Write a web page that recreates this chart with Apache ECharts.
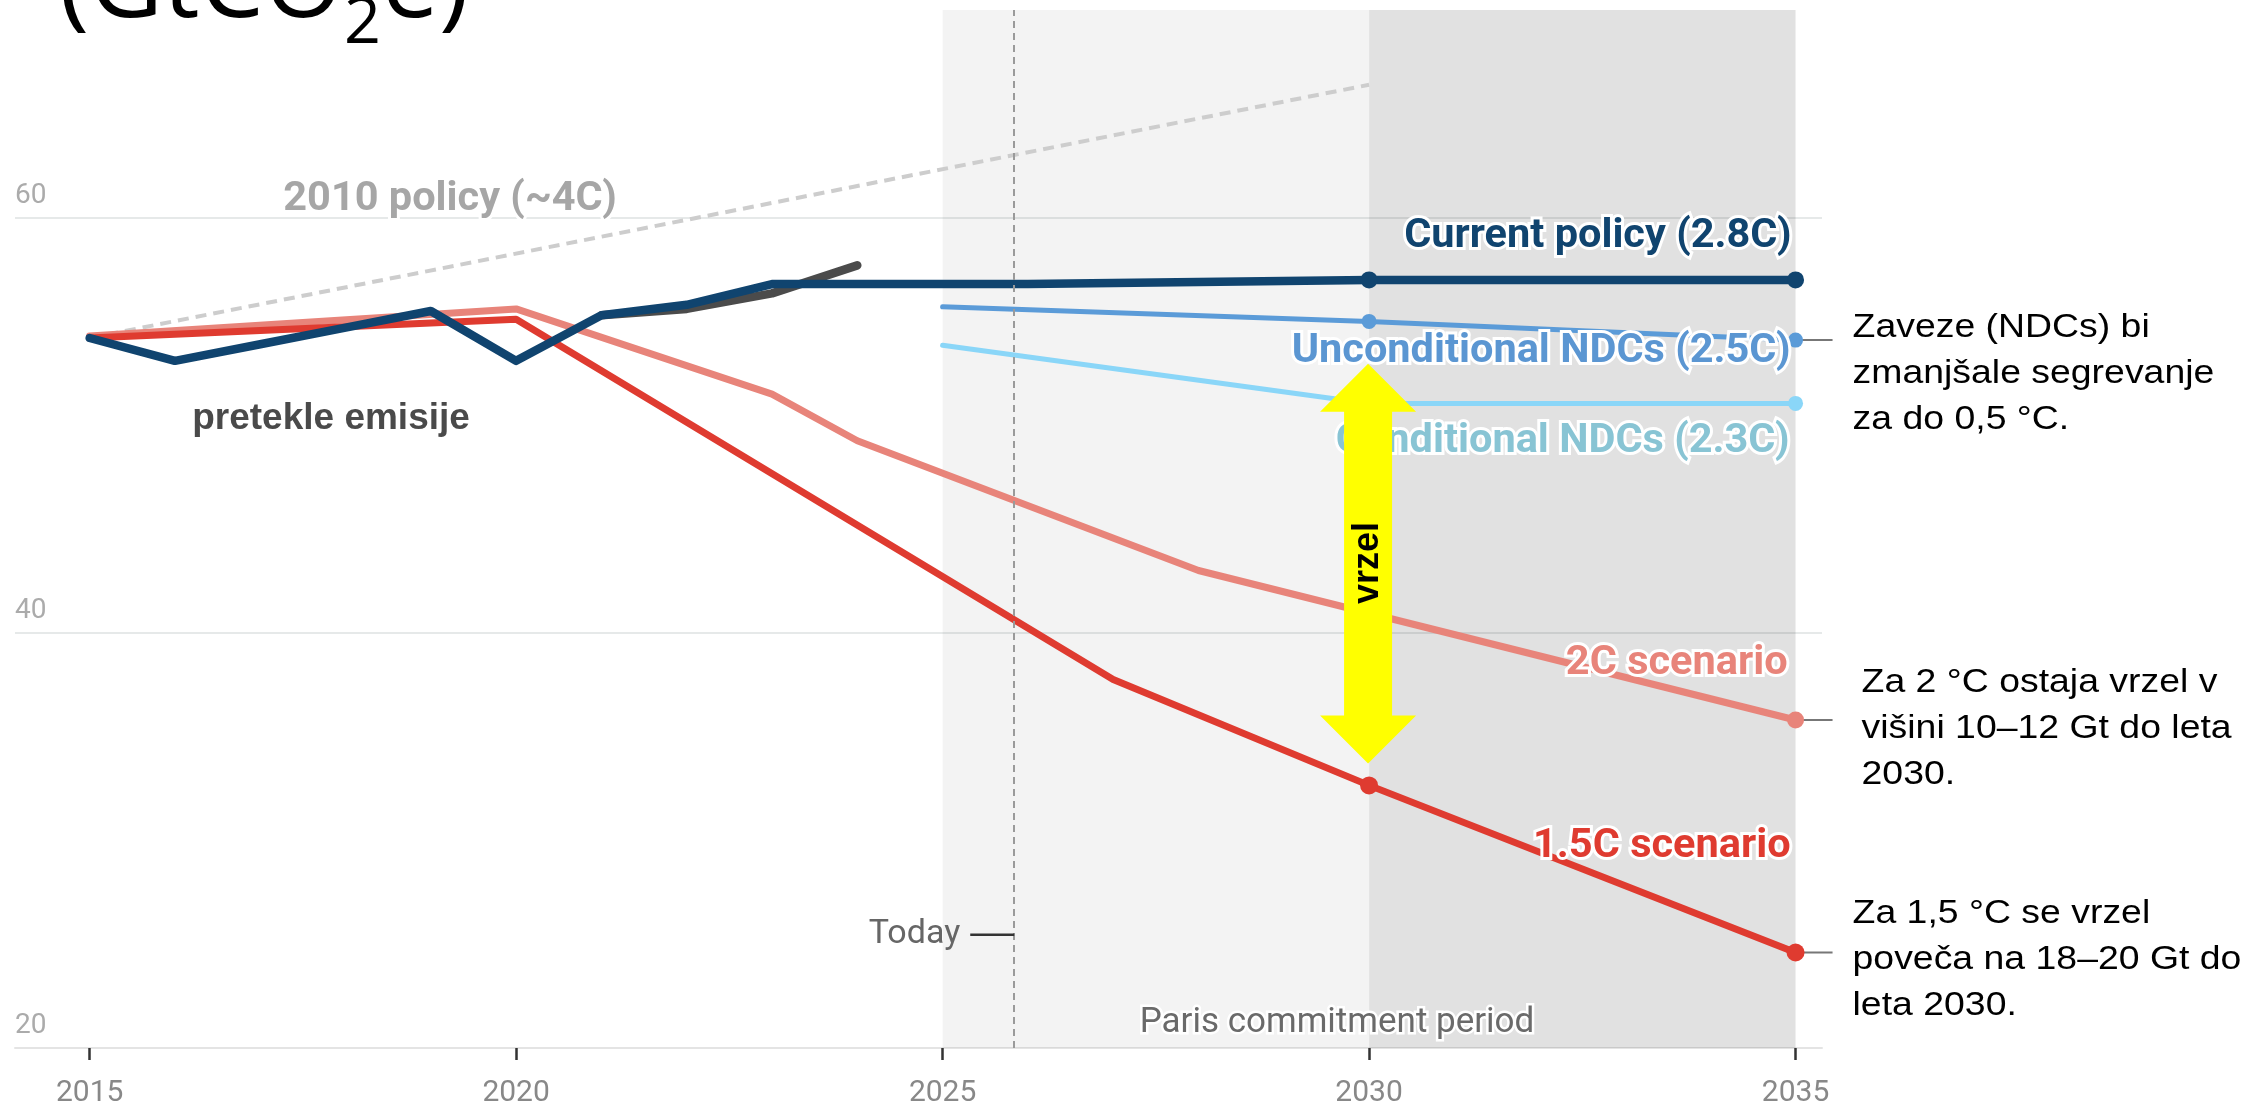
<!DOCTYPE html>
<html><head><meta charset="utf-8">
<script src="https://cdn.jsdelivr.net/npm/echarts@6/dist/echarts.min.js"></script>
<style>html,body{margin:0;padding:0;background:#fff;overflow:hidden}#c{width:2265px;height:1110px}</style>
</head><body><div id="c"></div>
<script>
// ---------- data ----------
const yearTicks = [2015, 2020, 2025, 2030, 2035];
const yTicks = [20, 40, 60];

const currentPolicyYears  = [2015, 2016, 2017, 2018, 2019, 2020, 2021, 2022, 2023, 2024, 2026, 2030, 2035];
const currentPolicyValues = [54.2, 53.1, 53.9, 54.7, 55.5, 53.1, 55.3, 55.8, 56.8, 56.8, 56.8, 57.0, 57.0];
const actualYears  = [2021, 2022, 2023, 2024];
const actualValues = [55.3, 55.6, 56.35, 57.7];
const policy2010Years  = [2015, 2030];
const policy2010Values = [54.2, 66.4];
const uncondYears  = [2025, 2030, 2035];
const uncondValues = [55.7, 55.0, 54.1];
const condYears  = [2025, 2030, 2035];
const condValues = [53.85, 51.05, 51.05];
const s2cYears  = [2015, 2020, 2023, 2024, 2028, 2035];
const s2cValues = [54.3, 55.6, 51.5, 49.25, 43.0, 35.8];
const s15Years  = [2015, 2020, 2027, 2030, 2035];
const s15Values = [54.2, 55.1, 37.75, 32.65, 24.6];

const todayYear = 2025.84;
const parisStart = 2025, parisEnd = 2030, parisLast = 2035;

(function () {
const chart = echarts.init(document.getElementById('c'), null, {renderer: 'canvas', width: 2265, height: 1110});
const toPairs = (xs, ys) => xs.map((x, i) => [x, ys[i]]);
function lineSeries(name, xs, ys, color, width, dotYears, dotSize, extra) {
  return Object.assign({
    type: 'line', name: name, data: toPairs(xs, ys),
    showSymbol: true, showAllSymbol: true, symbol: 'circle',
    symbolSize: v => dotYears.indexOf(v[0]) >= 0 ? dotSize : 0,
    itemStyle: {color: color},
    lineStyle: {color: color, width: width, cap: 'round', join: 'round'},
    emphasis: {disabled: true}, silent: true, clip: false, animation: false
  }, extra || {});
}
const ROBOTO = 'Roboto';
const ARIAL = '"Liberation Sans", Arial';

chart.setOption({
  animation: false,
  backgroundColor: '#ffffff',
  grid: {left: 15, right: 443, top: 10, bottom: 62, containLabel: false, outerBoundsMode: 'none'},
  xAxis: {
    type: 'value', min: 2014.125, max: 2035.31,
    axisLine: {show: true, lineStyle: {color: '#e4e4e4', width: 2}},
    axisTick: {show: true, customValues: yearTicks, length: 12, lineStyle: {color: '#333', width: 2.5}},
    axisLabel: {customValues: yearTicks, fontSize: 30, color: '#888888', margin: 30, fontFamily: ROBOTO,
      formatter: v => String(v)},
    splitLine: {show: false}
  },
  yAxis: {
    type: 'value', min: 20, max: 70, interval: 20,
    axisLine: {show: false}, axisTick: {show: false},
    axisLabel: {inside: true, margin: 0, fontSize: 28, color: '#ababab', fontFamily: ROBOTO,
      align: 'left', verticalAlign: 'bottom', padding: [0, 0, 8, 0],
      formatter: v => yTicks.indexOf(v) >= 0 ? String(v) : ''},
    splitLine: {show: true, lineStyle: {color: ['#e6e9e9', '#e6e9e9', '#e6e9e9', 'rgba(0,0,0,0)'], width: 2}}
  },
  series: [
    lineSeries('2010 policy (~4C)', policy2010Years, policy2010Values, '#cdcdcd', 4, [], 0, {
      lineStyle: {color: '#cdcdcd', width: 4, type: [11, 7], cap: 'butt'},
      markArea: {silent: true, label: {show: false}, data: [
        [{xAxis: parisStart, itemStyle: {color: 'rgba(0,0,0,0.047)'}}, {xAxis: parisEnd}],
        [{xAxis: parisEnd, itemStyle: {color: 'rgba(0,0,0,0.118)'}}, {xAxis: parisLast}]
      ]},
      markLine: {silent: true, symbol: 'none', label: {show: false},
        lineStyle: {color: '#9a9a9a', width: 2, type: [7, 5]},
        data: [{xAxis: todayYear}]}
    }),
    lineSeries('2C scenario', s2cYears, s2cValues, '#e8847a', 7, [2035], 17),
    lineSeries('1.5C scenario', s15Years, s15Values, '#df3b30', 7, [2030, 2035], 18),
    lineSeries('Conditional NDCs (2.3C)', condYears, condValues, '#8ad6f8', 5, [2030, 2035], 15),
    lineSeries('Unconditional NDCs (2.5C)', uncondYears, uncondValues, '#5b9bd8', 5, [2030, 2035], 15),
    lineSeries('Actual emissions', actualYears, actualValues, '#4b4b4b', 8.5, [], 0),
    lineSeries('Current policy (2.8C)', currentPolicyYears, currentPolicyValues, '#10446f', 8.5, [2030, 2035], 17)
  ]
});

// ---------- annotations ----------
const P = (x, y) => chart.convertToPixel({gridIndex: 0}, [x, y]);
function label(text, pt, dx, align, color, size, weight, family, z, halo, extra) {
  return Object.assign({
    type: 'text', x: pt[0] + dx, y: pt[1], z: z, silent: true,
    style: {text: text, fill: color, fontSize: size, fontWeight: weight, fontFamily: family,
      align: align, verticalAlign: 'middle', textAlign: align, textVerticalAlign: 'middle',
      stroke: halo ? '#ffffff' : null, lineWidth: halo ? halo : 0}
  }, extra || {});
}
const LS = 41.5;
const els = [];
els.push(label('Current policy (2.8C)', P(2035, 59.07), -4, 'right', '#10446f', LS, 'bold', ROBOTO, 20, 6));
els.push(label('Conditional NDCs (2.3C)', P(2035, 49.19), -6, 'right', '#88c4d4', LS, 'bold', ROBOTO, 20, 6));
els.push(label('2C scenario', P(2035, 38.5), -8, 'right', '#e8847a', LS, 'bold', ROBOTO, 20, 6));
els.push(label('1.5C scenario', P(2035, 29.68), -5, 'right', '#df3b30', LS, 'bold', ROBOTO, 20, 6));
els.push(label('2010 policy (~4C)', P(2017.27, 60.85), 0, 'left', '#a6a6a6', LS, 'bold', ROBOTO, 20, 6));
els.push(label('pretekle emisije', P(2017.83, 50.33), 0, 'center', '#4a4a4a', 37, 'bold', ARIAL, 20, 0));
els.push(label('Paris commitment period', P(2027.31, 21.2), 0, 'left', '#6a6a6a', 35, 'normal', ROBOTO, 20, 5));

// yellow double arrow (gap)
const aTop = P(2030, 52.96), aBot = P(2030, 33.7);
const cx = aTop[0] - 1, yT = aTop[1], yB = aBot[1], hh = 48, hw = 48, sw = 24;
els.push({type: 'polygon', z: 30, silent: true, shape: {points: [
  [cx, yT], [cx + hw, yT + hh], [cx + sw, yT + hh], [cx + sw, yB - hh], [cx + hw, yB - hh],
  [cx, yB], [cx - hw, yB - hh], [cx - sw, yB - hh], [cx - sw, yT + hh], [cx - hw, yT + hh]
]}, style: {fill: '#ffff00'}});
const vz = P(2030, 43.36);
els.push({type: 'text', x: vz[0] - 1, y: vz[1], rotation: Math.PI / 2, z: 31, silent: true,
  style: {text: 'vrzel', fill: '#000', fontSize: 36, fontWeight: 'bold', fontFamily: ARIAL,
    align: 'center', verticalAlign: 'middle', textAlign: 'center', textVerticalAlign: 'middle'}});
els.push(label('Unconditional NDCs (2.5C)', P(2035, 53.53), -5, 'right', '#5b96d2', LS, 'bold', ROBOTO, 40, 6));

// today marker
const td = P(todayYear, 25.45);
els.push({type: 'line', z: 20, silent: true, shape: {x1: td[0] - 44, y1: td[1], x2: td[0], y2: td[1]},
  style: {stroke: '#333', lineWidth: 2.5}});
els.push(label('Today', td, -54, 'right', '#666', 34, 'normal', ROBOTO, 20, 0));

// right-side notes with connectors
function note(text, dot, dx, dy) {
  els.push({type: 'line', z: 1, silent: true, shape: {x1: dot[0], y1: dot[1], x2: dot[0] + 37, y2: dot[1]},
    style: {stroke: '#777', lineWidth: 2}});
  els.push({type: 'text', x: dot[0] + dx, y: dot[1] + dy, z: 20, silent: true, scaleX: 1.1,
    style: {text: text, fill: '#000', fontSize: 34, fontFamily: ARIAL, lineHeight: 46,
      align: 'left', verticalAlign: 'top', textAlign: 'left', textVerticalAlign: 'top'}});
}
note('Zaveze (NDCs) bi\nzmanjšale segrevanje\nza do 0,5 °C.', P(2035, uncondValues[2]), 57, -35);
note('Za 2 °C ostaja vrzel v\nvišini 10–12 Gt do leta\n2030.', P(2035, s2cValues[s2cValues.length - 1]), 66, -60);
note('Za 1,5 °C se vrzel\npoveča na 18–20 Gt do\nleta 2030.', P(2035, s15Values[s15Values.length - 1]), 57, -62);

// title (unit) at top-left, partially cut off -- placed by measured ink box
const ctx = document.createElement('canvas').getContext('2d');
ctx.textBaseline = 'middle';
const TF = '"Open Sans"';
function ink(text, size) {
  ctx.font = '400 ' + size + 'px ' + TF;
  const m = ctx.measureText(text);
  return {l: m.actualBoundingBoxLeft, r: m.actualBoundingBoxRight, d: m.actualBoundingBoxDescent};
}
const m100 = ink('(GtCO', 100);
const tMain = 100 * 274 / (m100.l + m100.r);
const s100 = ink('2', 100);
const tSub = 100 * 31 / (s100.l + s100.r);
const mA = ink('(GtCO', tMain), mB = ink('e)', tMain), mS = ink('2', tSub);
const tstyle = (t, s) => ({text: t, fill: '#000', fontSize: s, fontFamily: TF, fontWeight: 'normal',
  align: 'left', verticalAlign: 'middle', textAlign: 'left', textVerticalAlign: 'middle'});
els.push({type: 'text', x: 63 + mA.l, y: 33 - mA.d, z: 20, silent: true, style: tstyle('(GtCO', tMain)});
els.push({type: 'text', x: 347 + mS.l, y: 43 - mS.d, z: 20, silent: true, style: tstyle('2', tSub)});
els.push({type: 'text', x: 465 - mB.r, y: 33 - mB.d, z: 20, silent: true, style: tstyle('e)', tMain)});

chart.setOption({graphic: {elements: els}});
})();
</script></body></html>
